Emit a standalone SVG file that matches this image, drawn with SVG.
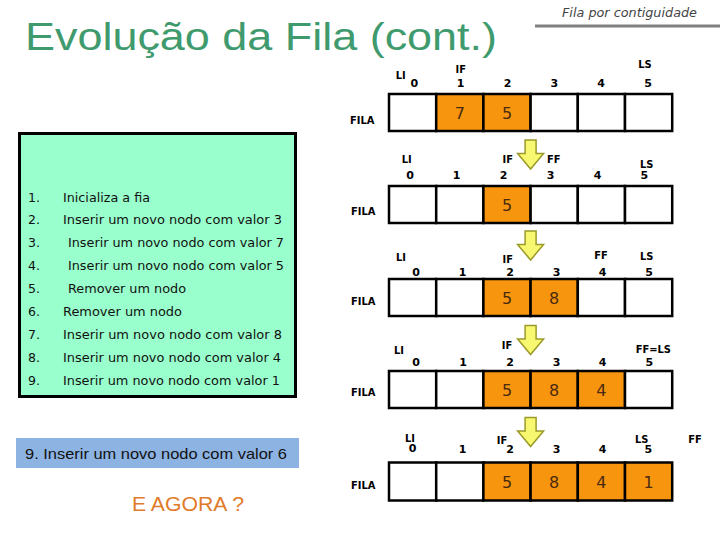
<svg xmlns="http://www.w3.org/2000/svg" width="720" height="540" viewBox="0 0 720 540">
<style>
.title{font-family:"Liberation Sans",Arial,sans-serif;font-size:38px;fill:#3f9b6e}
.hdr{font-family:"DejaVu Sans","Liberation Sans",sans-serif;font-style:italic;font-size:12px;fill:#444}
.cell{fill:#ffffff;stroke:#000;stroke-width:2.5}
.on{fill:#f7960e}
.val{font-family:"DejaVu Sans","Liberation Sans",sans-serif;font-size:16px;fill:#4a2a10;text-anchor:middle}
.lab{font-family:"Liberation Sans Narrow","DejaVu Sans Condensed","Liberation Sans",sans-serif;font-weight:bold;font-size:11px;fill:#000;text-anchor:middle}
.idx{font-family:"DejaVu Sans","Liberation Sans",sans-serif;font-weight:bold;font-size:11px;fill:#000;text-anchor:middle}
.fila{font-family:"Liberation Sans Narrow","DejaVu Sans Condensed","Liberation Sans",sans-serif;font-weight:bold;font-size:11px;fill:#000}
.item{font-family:"DejaVu Sans","Liberation Sans",sans-serif;font-size:12.5px;fill:#111}
.arrow{fill:#f8f870;stroke:#9a9a2a;stroke-width:1.5;stroke-linejoin:miter}
</style>
<defs>
<path id="arr" d="M-5.5,0 H5.5 V13.5 H13 L0,29 L-13,13.5 H-5.5 Z"/>
</defs>
<rect width="720" height="540" fill="#fff"/>

<g id="header">
<text class="hdr" x="562" y="17" textLength="135" lengthAdjust="spacingAndGlyphs">Fila por contiguidade</text>
<line x1="535" y1="26" x2="720" y2="26" stroke="#808080" stroke-width="3"/>
</g>
<g id="title">
<text class="title" x="25" y="50" textLength="472" lengthAdjust="spacingAndGlyphs">Evolução da Fila (cont.)</text>
</g>

<g id="steps">
<rect x="19.5" y="133.5" width="276" height="263" fill="#99ffcc" stroke="#000" stroke-width="3"/>
<g class="item">
<text x="28" y="202">1.</text><text x="63" y="202" textLength="87" lengthAdjust="spacingAndGlyphs">Inicializa a fia</text>
<text x="28" y="224">2.</text><text x="63" y="224" textLength="219" lengthAdjust="spacingAndGlyphs">Inserir um novo nodo com valor 3</text>
<text x="28" y="247">3.</text><text x="68" y="247" textLength="216" lengthAdjust="spacingAndGlyphs">Inserir um novo nodo com valor 7</text>
<text x="28" y="270">4.</text><text x="68" y="270" textLength="216" lengthAdjust="spacingAndGlyphs">Inserir um novo nodo com valor 5</text>
<text x="28" y="293">5.</text><text x="68" y="293" textLength="118" lengthAdjust="spacingAndGlyphs">Remover um nodo</text>
<text x="28" y="316">6.</text><text x="63" y="316" textLength="119" lengthAdjust="spacingAndGlyphs">Remover um nodo</text>
<text x="28" y="339">7.</text><text x="63" y="339" textLength="219" lengthAdjust="spacingAndGlyphs">Inserir um novo nodo com valor 8</text>
<text x="28" y="362">8.</text><text x="63" y="362" textLength="218" lengthAdjust="spacingAndGlyphs">Inserir um novo nodo com valor 4</text>
<text x="28" y="385">9.</text><text x="63" y="385" textLength="217" lengthAdjust="spacingAndGlyphs">Inserir um novo nodo com valor 1</text>
</g>
</g>

<g id="step9">
<rect x="16" y="438" width="283" height="30" fill="#8db3e2"/>
<text x="25" y="458.5" font-family="Liberation Sans,Arial,sans-serif" font-size="15" fill="#111" textLength="262" lengthAdjust="spacingAndGlyphs">9. Inserir um novo nodo com valor 6</text>
</g>
<g id="agora">
<text x="132" y="511" font-family="Liberation Sans,Arial,sans-serif" font-size="20" fill="#e07b2a" textLength="112" lengthAdjust="spacingAndGlyphs">E AGORA ?</text>
</g>

<!-- Row 1 -->
<g id="row1">
<text class="fila" x="350" y="123.5">FILA</text>
<rect class="cell" x="389" y="94" width="47.2" height="37"/>
<rect class="cell on" x="436.2" y="94" width="47.2" height="37"/>
<rect class="cell on" x="483.4" y="94" width="47.2" height="37"/>
<rect class="cell" x="530.6" y="94" width="47.2" height="37"/>
<rect class="cell" x="577.8" y="94" width="47.2" height="37"/>
<rect class="cell" x="625" y="94" width="47.2" height="37"/>
<text class="val" x="459.8" y="118.5">7</text>
<text class="val" x="507" y="118.5">5</text>
<text class="lab" x="400.7" y="79">LI</text>
<text class="lab" x="460.7" y="72.5">IF</text>
<text class="lab" x="645" y="67.5">LS</text>
<text class="idx" x="414.3" y="87">0</text>
<text class="idx" x="460.7" y="87">1</text>
<text class="idx" x="507.7" y="87">2</text>
<text class="idx" x="554.3" y="87">3</text>
<text class="idx" x="601" y="87">4</text>
<text class="idx" x="648" y="87">5</text>
</g>

<!-- Row 2 -->
<g id="row2">
<text class="fila" x="351" y="214.5">FILA</text>
<rect class="cell" x="389" y="186" width="47.2" height="37"/>
<rect class="cell" x="436.2" y="186" width="47.2" height="37"/>
<rect class="cell on" x="483.4" y="186" width="47.2" height="37"/>
<rect class="cell" x="530.6" y="186" width="47.2" height="37"/>
<rect class="cell" x="577.8" y="186" width="47.2" height="37"/>
<rect class="cell" x="625" y="186" width="47.2" height="37"/>
<text class="val" x="507" y="210.5">5</text>
<text class="lab" x="406.7" y="163">LI</text>
<text class="lab" x="507.7" y="163">IF</text>
<text class="lab" x="553.7" y="163">FF</text>
<text class="lab" x="646.7" y="167.5">LS</text>
<text class="idx" x="410" y="179">0</text>
<text class="idx" x="456.7" y="179">1</text>
<text class="idx" x="503.7" y="179">2</text>
<text class="idx" x="550.7" y="179">3</text>
<text class="idx" x="597.7" y="179">4</text>
<text class="idx" x="644.3" y="179">5</text>
</g>

<!-- Row 3 -->
<g id="row3">
<text class="fila" x="351" y="305">FILA</text>
<rect class="cell" x="389" y="279" width="47.2" height="37"/>
<rect class="cell" x="436.2" y="279" width="47.2" height="37"/>
<rect class="cell on" x="483.4" y="279" width="47.2" height="37"/>
<rect class="cell on" x="530.6" y="279" width="47.2" height="37"/>
<rect class="cell" x="577.8" y="279" width="47.2" height="37"/>
<rect class="cell" x="625" y="279" width="47.2" height="37"/>
<text class="val" x="507" y="303.5">5</text>
<text class="val" x="554.2" y="303.5">8</text>
<text class="lab" x="401" y="260.5">LI</text>
<text class="lab" x="507.7" y="263">IF</text>
<text class="lab" x="601" y="259">FF</text>
<text class="lab" x="646.7" y="260">LS</text>
<text class="idx" x="416" y="275.5">0</text>
<text class="idx" x="462.7" y="275.5">1</text>
<text class="idx" x="510" y="275.5">2</text>
<text class="idx" x="556.7" y="275.5">3</text>
<text class="idx" x="602.7" y="275.5">4</text>
<text class="idx" x="649" y="275.5">5</text>
</g>

<!-- Row 4 -->
<g id="row4">
<text class="fila" x="351" y="396">FILA</text>
<rect class="cell" x="389" y="371" width="47.2" height="37"/>
<rect class="cell" x="436.2" y="371" width="47.2" height="37"/>
<rect class="cell on" x="483.4" y="371" width="47.2" height="37"/>
<rect class="cell on" x="530.6" y="371" width="47.2" height="37"/>
<rect class="cell on" x="577.8" y="371" width="47.2" height="37"/>
<rect class="cell" x="625" y="371" width="47.2" height="37"/>
<text class="val" x="507" y="395.5">5</text>
<text class="val" x="554.2" y="395.5">8</text>
<text class="val" x="601.4" y="395.5">4</text>
<text class="lab" x="399" y="354.3">LI</text>
<text class="lab" x="507" y="349.3">IF</text>
<text class="lab" x="653.3" y="353.3">FF=LS</text>
<text class="idx" x="416" y="365.7">0</text>
<text class="idx" x="463" y="365.7">1</text>
<text class="idx" x="510" y="365.7">2</text>
<text class="idx" x="556.7" y="365.7">3</text>
<text class="idx" x="602.7" y="365.7">4</text>
<text class="idx" x="649.3" y="365.7">5</text>
</g>

<!-- Row 5 -->
<g id="row5">
<text class="fila" x="351" y="489">FILA</text>
<rect class="cell" x="389" y="462.5" width="47.2" height="38"/>
<rect class="cell" x="436.2" y="462.5" width="47.2" height="38"/>
<rect class="cell on" x="483.4" y="462.5" width="47.2" height="38"/>
<rect class="cell on" x="530.6" y="462.5" width="47.2" height="38"/>
<rect class="cell on" x="577.8" y="462.5" width="47.2" height="38"/>
<rect class="cell on" x="625" y="462.5" width="47.2" height="38"/>
<text class="val" x="507" y="487.5">5</text>
<text class="val" x="554.2" y="487.5">8</text>
<text class="val" x="601.4" y="487.5">4</text>
<text class="val" x="648.6" y="487.5">1</text>
<text class="lab" x="410" y="442.3">LI</text>
<text class="lab" x="502" y="443.8">IF</text>
<text class="lab" x="641.7" y="442.8">LS</text>
<text class="lab" x="695" y="442.7">FF</text>
<text class="idx" x="412.7" y="452">0</text>
<text class="idx" x="462.7" y="453">1</text>
<text class="idx" x="510" y="453">2</text>
<text class="idx" x="556.7" y="453">3</text>
<text class="idx" x="602.7" y="453">4</text>
<text class="idx" x="648.3" y="452.5">5</text>
</g>

<g id="connectors">
<use href="#arr" class="arrow" x="530.6" y="140"/>
<use href="#arr" class="arrow" x="530.6" y="231"/>
<use href="#arr" class="arrow" x="530.6" y="325.5"/>
<use href="#arr" class="arrow" x="530.6" y="417.5"/>
</g>
</svg>
